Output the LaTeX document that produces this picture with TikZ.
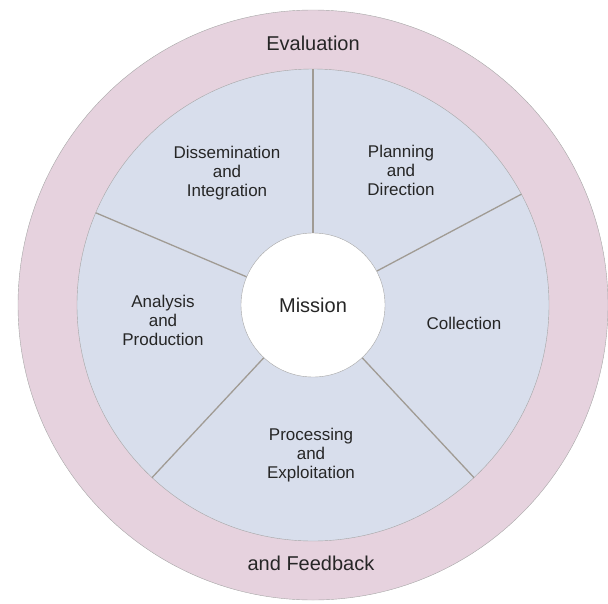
\documentclass[tikz,border=0pt]{standalone}
\usepackage{fontspec}
\usetikzlibrary{calc}
\setmainfont{Liberation Sans}
\definecolor{ringc}{RGB}{230,210,222}
\definecolor{secc}{RGB}{216,222,236}
\definecolor{divc}{RGB}{160,155,148}
\begin{document}
\begin{tikzpicture}[x=1pt,y=-1pt,
  lbl/.style={align=center,font=\fontsize{17}{19}\selectfont,text=black!85},
  div/.style={draw=divc,line width=1.3pt}]
\useasboundingbox (0,0) rectangle (608,603);
\coordinate (c) at (313,305);
\fill[fill=ringc,draw=gray!70] (c) circle (295);
\fill[fill=secc,draw=gray!70] (c) circle (236);
\foreach \a in {90,28,-47,-133,157}
  \draw[div] ($(c)+(\a:72 and -72)$) -- ($(c)+(\a:236 and -236)$);
\node[circle,fill=white,draw=gray!70,minimum size=144pt,lbl,font=\fontsize{20}{22}\selectfont] (m) at (c) {Mission};
\node[lbl,font=\fontsize{20}{22}\selectfont] (ev) at (313,43) {Evaluation};
\node[lbl,font=\fontsize{20}{22}\selectfont] (fb) at (311,563) {and Feedback};
\node[lbl] (di) at (227,173) {Dissemination\\and\\Integration};
\node[lbl] (pd) at (401,170) {Planning\\and\\Direction};
\node[lbl] (co) at (464,323) {Collection};
\node[lbl] (pe) at (311,455) {Processing\\and\\Exploitation};
\node[lbl] (ap) at (163,320) {Analysis\\and\\Production};
\end{tikzpicture}
\end{document}
